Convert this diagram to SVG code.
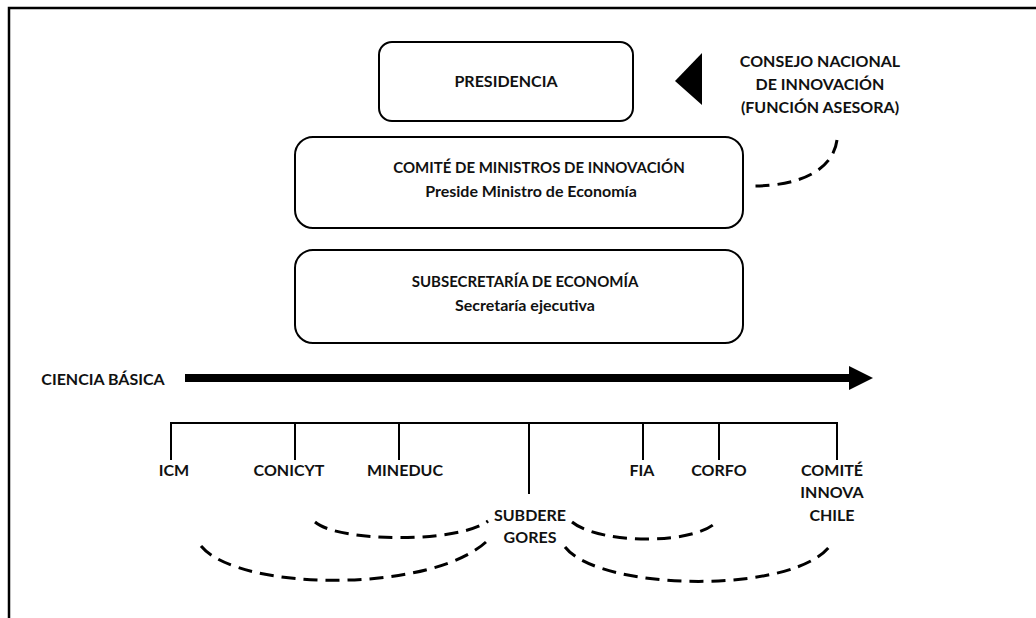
<svg xmlns="http://www.w3.org/2000/svg" width="1036" height="618" viewBox="0 0 1036 618">
<style>
text{font-family:Lato,"Liberation Sans",Arial,sans-serif;font-weight:bold;font-size:16px;fill:#111;text-anchor:middle}
text.sm{font-size:15px}
.box{fill:#fff;stroke:#000;stroke-width:2}
.tree{fill:none;stroke:#000;stroke-width:2}
.dash{fill:none;stroke:#000;stroke-width:3;stroke-dasharray:14 8}
</style>
<rect width="1036" height="618" fill="#fff"/>
<g id="frame" fill="none" stroke="#000" stroke-width="2.5">
<path d="M9,618 V8 H1036"/>
</g>
<g id="presidencia">
<rect class="box" x="379" y="42" width="254" height="79" rx="13"/>
<text x="506" y="87">PRESIDENCIA</text>
</g>
<g id="consejo">
<text x="820" y="67">CONSEJO NACIONAL</text>
<text x="820" y="90">DE INNOVACIÓN</text>
<text x="820" y="113">(FUNCIÓN ASESORA)</text>
</g>
<g id="comite-ministros">
<rect class="box" x="295" y="137" width="448" height="91" rx="18"/>
<text class="sm" x="539" y="173">COMITÉ DE MINISTROS DE INNOVACIÓN</text>
<text x="531" y="197">Preside Ministro de Economía</text>
</g>
<g id="subsecretaria">
<rect class="box" x="295" y="250" width="448" height="93" rx="18"/>
<text class="sm" x="525" y="287">SUBSECRETARÍA DE ECONOMÍA</text>
<text x="525" y="311">Secretaría ejecutiva</text>
</g>
<g id="ciencia-basica">
<text x="103" y="385">CIENCIA BÁSICA</text>
<rect x="185" y="374" width="666" height="8" fill="#000"/>
<polygon points="849,366 873,378 849,390" fill="#000"/>
</g>
<g id="icm"><text x="174" y="476">ICM</text></g>
<g id="conicyt"><text x="289" y="476">CONICYT</text></g>
<g id="mineduc"><text x="405" y="476">MINEDUC</text></g>
<g id="subdere"><text x="530" y="521">SUBDERE</text><text x="530" y="543">GORES</text></g>
<g id="fia"><text x="642" y="476">FIA</text></g>
<g id="corfo"><text x="719" y="476">CORFO</text></g>
<g id="innova"><text x="832" y="476">COMITÉ</text><text x="832" y="498">INNOVA</text><text x="832" y="521">CHILE</text></g>
<g id="connectors">
<polygon points="702,53 702,105 675,81" fill="#000"/>
<path class="dash" d="M837,140 C833,170 800,186 753,186"/>
<path class="tree" d="M171,460 V423 H837 V460 M295,423 V460 M399,423 V460 M529,423 V494 M643,423 V460 M719,423 V460"/>
<path class="dash" d="M315,522 C340,543 460,543 488,521"/>
<path class="dash" d="M201,546 C240,593 440,593 490,538"/>
<path class="dash" d="M572,522 C600,545 700,545 718,520"/>
<path class="dash" d="M565,547 C600,592 800,595 832,543"/>
</g>
</svg>
